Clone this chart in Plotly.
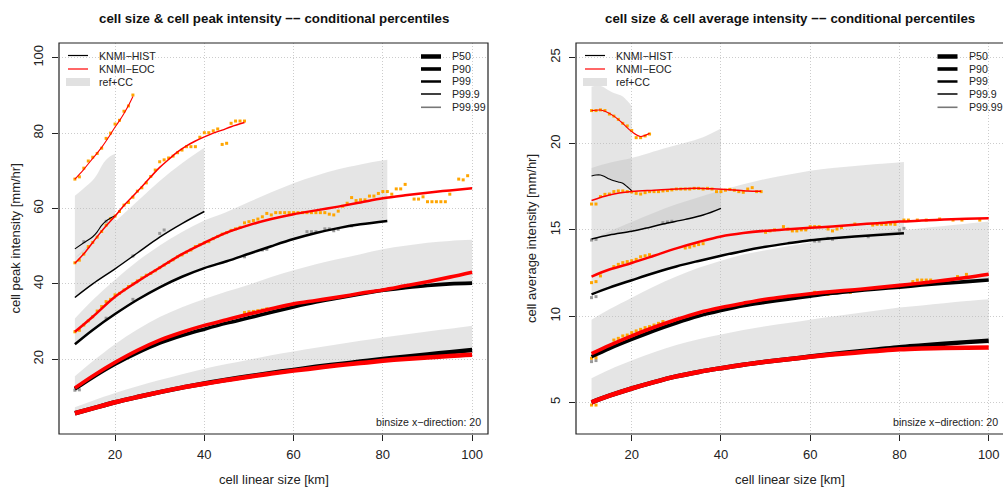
import plotly.graph_objects as go

W, H = 1003, 489
FONT = "Liberation Sans, Arial, Helvetica, sans-serif"

# ---------------- data: x grid and tick labels ----------------
X_FULL = [11, 15, 20, 25, 30, 35, 40, 45, 50, 55, 60, 65, 70, 75, 80, 85, 90, 95, 100]
X_P99_HIST = [11, 15, 20, 25, 30, 35, 40, 45, 50, 55, 60, 65, 70, 75, 81]
X_TICKS = [20, 40, 60, 80, 100]
PEAK_Y_TICKS = [20, 40, 60, 80, 100]
AVG_Y_TICKS = [5, 10, 15, 20, 25]
PERCENTILES = ["P50", "P90", "P99", "P99.9", "P99.99"]

# ---------------- left panel: cell peak intensity ----------------
PEAK_HIST_P50 = [5.7, 7.0, 8.6, 10.0, 11.3, 12.5, 13.6, 14.6, 15.5, 16.4, 17.2, 18.0, 18.7, 19.4, 20.1, 20.7, 21.3, 21.9, 22.5]
PEAK_EOC_P50 = [5.7, 7.0, 8.6, 10.0, 11.3, 12.5, 13.5, 14.5, 15.4, 16.2, 17.0, 17.7, 18.4, 19.0, 19.6, 20.1, 20.5, 20.9, 21.2]
PEAK_BAND_P50 = [7.3, 9.0, 11.05, 12.85, 14.5, 16.05, 17.5, 18.75, 19.9, 21.1, 22.1, 23.1, 24.0, 24.9, 25.8, 26.6, 27.4, 28.1, 28.9]

PEAK_HIST_P90 = [12.1, 15.2, 18.7, 21.7, 24.3, 26.3, 28.0, 29.6, 31.0, 32.5, 33.9, 35.2, 36.3, 37.3, 38.3, 39.0, 39.6, 40.0, 40.2]
PEAK_EOC_P90 = [12.4, 15.6, 19.2, 22.4, 25.1, 27.2, 29.0, 30.5, 32.0, 33.4, 34.7, 35.6, 36.5, 37.5, 38.4, 39.5, 40.6, 41.8, 43.1]
PEAK_BAND_P90 = [15.5, 19.5, 24.0, 27.9, 31.2, 33.8, 36.0, 38.0, 39.8, 41.8, 43.6, 45.2, 46.6, 47.9, 49.2, 50.1, 50.9, 51.4, 51.7]

PEAK_HIST_P99 = [24.0, 27.8, 32.0, 35.8, 39.1, 41.9, 44.2, 46.0, 48.0, 50.0, 51.9, 53.5, 54.8, 55.8, 56.7]
PEAK_BAND_P99 = [30.8, 35.7, 41.1, 46.0, 50.2, 53.8, 56.8, 59.1, 61.7, 64.3, 66.7, 68.7, 70.4, 71.7, 72.9]
PEAK_EOC_P99 = [27.3, 31.3, 36.6, 40.6, 44.3, 47.9, 50.9, 53.6, 55.6, 57.2, 58.5, 59.5, 60.5, 61.6, 62.7, 63.5, 64.2, 64.8, 65.4]

PEAK_X_P999_HIST = [11, 15, 20, 25, 30, 35, 40]
PEAK_HIST_P999 = [36.4, 40.0, 44.0, 48.2, 52.4, 56.0, 59.2]
PEAK_BAND_P999 = [46.8, 51.4, 56.5, 61.9, 67.3, 72.0, 76.1]
PEAK_X_P999_EOC = [11, 13, 15, 17, 20, 22, 25, 28, 30, 32, 34, 36, 38, 40, 42, 44, 46, 49]
PEAK_EOC_P999 = [45.5, 48.0, 51.0, 54.0, 58.0, 60.8, 64.5, 68.4, 70.9, 73.0, 75.0, 76.6, 77.9, 79.0, 80.0, 80.8, 81.7, 82.8]

PEAK_X_P9999_HIST = [11, 13, 15, 16, 17, 18, 19, 20]
PEAK_HIST_P9999 = [49.3, 50.9, 52.5, 53.8, 55.5, 56.7, 57.5, 58.0]
PEAK_BAND_P9999_LO = [46.8, 48.6, 51.4, 52.4, 53.5, 54.5, 55.5, 56.5]
PEAK_BAND_P9999_HI = [63.4, 65.4, 67.5, 69.1, 71.3, 72.9, 73.9, 74.5]
PEAK_X_P9999_EOC = [11, 13, 15, 17, 19, 20, 21, 22, 23, 24]
PEAK_EOC_P9999 = [67.8, 70.4, 73.3, 76.2, 79.7, 81.6, 83.3, 85.2, 87.3, 89.7]

# raw (unsmoothed) conditional percentiles, per 1-km size bin
PEAK_EOC_P9999_DOT_X = list(range(11, 25))
PEAK_EOC_P9999_DOT_Y = [67.8, 68.4, 70.7, 72.6, 73.6, 74.6, 76.0, 78.6, 80.0, 82.4, 83.4, 85.8, 87.2, 90.1]
PEAK_EOC_P999_DOT_X = list(range(11, 50))
PEAK_EOC_P999_DOT_Y = [45.6, 46.3, 47.9, 49.9, 51.0, 52.4, 53.9, 55.6, 57.3, 58.0,
                       59.2, 60.9, 61.6, 63.0, 64.6, 65.5, 66.8, 68.5, 70.2, 72.4,
                       72.9, 73.4, 73.9, 74.8, 75.5, 76.4, 76.4, 76.4, 78.9, 80.1,
                       80.1, 80.6, 81.1, 77.0, 77.3, 82.6, 83.2, 83.2, 83.2]
PEAK_EOC_P99_DOT_X = list(range(11, 86)) + [87, 88, 89, 90, 91, 92, 93, 94, 95, 97, 98, 99]
PEAK_EOC_P99_DOT_Y = [27.3, 27.7, 29.1, 30.2, 31.3, 32.8, 34.0, 35.3, 35.9, 37.1,
                      37.5, 38.4, 39.3, 40.0, 40.8, 41.6, 42.3, 42.8, 43.5, 44.3,
                      45.0, 45.7, 46.4, 47.2, 47.7, 48.4, 49.0, 49.9, 50.4, 50.9,
                      51.2, 52.0, 52.6, 53.2, 53.6, 54.2, 54.6, 55.0, 56.2, 56.5,
                      56.8, 57.2, 57.8, 58.7, 58.3, 58.9, 58.9, 58.9, 58.9, 58.9,
                      58.9, 58.9, 58.9, 58.9, 58.9, 58.9, 58.9, 58.5, 58.3, 59.3,
                      60.6, 61.4, 62.9, 62.1, 62.3, 62.3, 63.3, 63.3, 64.0, 64.5,
                      64.5, 63.8, 65.2, 65.2, 66.4,
                      62.5, 62.5, 63.1, 61.8, 61.8, 61.8, 61.8, 61.8, 63.8, 67.8, 67.6, 68.7]
PEAK_EOC_P90_DOT_X = [49, 50, 51, 52, 53, 54]
PEAK_EOC_P90_DOT_Y = [32.4, 32.6, 32.7, 32.9, 33.1, 33.4]

PEAK_HIST_DOT_X = [13, 18, 24, 30, 31, 18, 24, 49, 53, 54, 63, 64, 65, 67, 68, 69, 70, 73, 11, 12]
PEAK_HIST_DOT_Y = [51.2, 56.6, 47.4, 53.4, 54.3, 30.9, 35.9, 47.2, 49.0, 49.2, 53.85, 53.85, 53.85,
                   54.6, 54.6, 54.1, 54.5, 55.4, 11.8, 11.9]

# ---------------- right panel: cell average intensity ----------------
AVG_HIST_P50 = [5.0, 5.38, 5.8, 6.17, 6.5, 6.76, 6.98, 7.18, 7.35, 7.5, 7.65, 7.8, 7.93, 8.06, 8.2, 8.3, 8.4, 8.49, 8.57]
AVG_EOC_P50 = [5.0, 5.38, 5.8, 6.17, 6.5, 6.76, 6.98, 7.18, 7.35, 7.5, 7.64, 7.77, 7.88, 7.98, 8.07, 8.12, 8.15, 8.17, 8.18]
AVG_BAND_P50 = [6.4, 6.89, 7.42, 7.9, 8.32, 8.65, 8.93, 9.19, 9.41, 9.6, 9.79, 9.98, 10.15, 10.32, 10.5, 10.62, 10.75, 10.87, 10.97]

AVG_HIST_P90 = [7.65, 8.12, 8.65, 9.15, 9.6, 10.0, 10.32, 10.6, 10.8, 10.98, 11.15, 11.32, 11.46, 11.58, 11.68, 11.8, 11.9, 12.0, 12.09]
AVG_EOC_P90 = [7.82, 8.3, 8.85, 9.35, 9.8, 10.2, 10.5, 10.75, 10.98, 11.15, 11.3, 11.42, 11.53, 11.65, 11.78, 11.92, 12.07, 12.24, 12.43]
AVG_BAND_P90 = [9.79, 10.39, 11.07, 11.71, 12.29, 12.8, 13.21, 13.57, 13.82, 14.05, 14.27, 14.49, 14.67, 14.82, 14.95, 15.1, 15.23, 15.36, 15.48]

AVG_HIST_P99 = [11.26, 11.65, 12.08, 12.5, 12.88, 13.2, 13.5, 13.78, 14.02, 14.22, 14.4, 14.52, 14.62, 14.7, 14.8]
AVG_BAND_P99 = [14.41, 14.91, 15.46, 16.0, 16.49, 16.9, 17.28, 17.64, 17.95, 18.2, 18.43, 18.59, 18.71, 18.82, 18.94]
AVG_EOC_P99 = [12.29, 12.7, 13.08, 13.5, 13.93, 14.3, 14.62, 14.82, 14.95, 15.03, 15.12, 15.2, 15.3, 15.39, 15.48, 15.54, 15.6, 15.64, 15.67]

AVG_X_P999_HIST = [11, 15, 20, 23, 27, 32, 36, 40]
AVG_HIST_P999 = [14.47, 14.7, 14.92, 15.09, 15.34, 15.61, 15.86, 16.25]
AVG_BAND_P999 = [18.59, 18.89, 19.17, 19.39, 19.71, 20.06, 20.38, 20.88]
AVG_X_P999_EOC = [11, 15, 20, 25, 30, 34, 38, 42, 46, 49]
AVG_EOC_P999 = [16.7, 17.02, 17.22, 17.3, 17.37, 17.41, 17.38, 17.33, 17.25, 17.24]

AVG_X_P9999_HIST = [11, 12, 13, 14, 15, 16, 17, 18, 19, 20]
AVG_HIST_P9999 = [18.13, 18.18, 18.18, 18.08, 17.95, 17.85, 17.78, 17.7, 17.5, 17.27]
AVG_BAND_P9999 = [23.3, 23.36, 23.36, 23.23, 23.07, 22.94, 22.85, 22.74, 22.49, 22.19]
AVG_X_P9999_EOC = [11, 13, 14, 16, 18, 20, 22, 24]
AVG_EOC_P9999 = [21.92, 21.95, 21.88, 21.6, 21.18, 20.7, 20.42, 20.6]

AVG_EOC_P9999_DOT_X = list(range(11, 25))
AVG_EOC_P9999_DOT_Y = [21.92, 21.92, 21.96, 21.92, 21.72, 21.6, 21.41, 21.18, 21.03, 20.76, 20.35, 20.35, 20.45, 20.56]
AVG_EOC_P999_DOT_X = list(range(11, 50))
AVG_EOC_P999_DOT_Y = [16.5, 16.5, 16.93, 17.06, 17.08, 17.22, 17.26, 17.26, 17.22, 17.2,
                      17.12, 17.08, 17.16, 17.22, 17.22, 17.22, 17.26, 17.28, 17.32, 17.37,
                      17.37, 17.37, 17.37, 17.41, 17.41, 17.37, 17.41, 17.37, 17.22, 17.22,
                      17.3, 17.35, 17.3, 17.22, 17.18, 17.37, 17.45, 17.22, 17.22]
AVG_EOC_P99_DOT_X = [11, 12, 13, 16, 17, 18, 19, 20, 21, 22, 23, 24, 32, 33, 34, 35, 36,
                     50, 51, 52, 54, 55, 56, 57, 58, 59, 60, 61, 62, 64, 65, 66, 67, 70,
                     74, 75, 76, 77, 78, 79, 81, 82, 84, 86, 89, 92, 94, 98]
AVG_EOC_P99_DOT_Y = [11.94, 12.0, 12.33, 12.87, 13.0, 13.1, 13.16, 13.21, 13.29, 13.44, 13.5, 13.56,
                     13.95, 14.0, 14.08, 14.15, 14.2,
                     14.86, 14.94, 15.0, 15.19, 15.05, 14.94, 14.94, 15.0, 15.0, 15.19, 15.19, 15.19,
                     15.05, 14.94, 15.05, 15.13, 15.34,
                     15.28, 15.32, 15.32, 15.32, 15.34, 15.32, 15.57, 15.57, 15.57, 15.57, 15.63,
                     15.57, 15.57, 15.57]
AVG_EOC_P90_DOT_X = [11, 12, 16, 17, 18, 19, 20, 21, 22, 23, 24, 25, 26, 27, 61, 64, 69, 83, 84, 85, 86, 87, 93, 95]
AVG_EOC_P90_DOT_Y = [7.55, 7.59, 8.61, 8.71, 8.85, 8.9, 9.04, 9.14, 9.23, 9.33, 9.39, 9.48, 9.58, 9.68,
                     11.38, 11.26, 11.38, 12.0, 12.09, 12.09, 12.09, 12.09, 12.29, 12.42]
AVG_EOC_P50_DOT_X = [11, 12]
AVG_EOC_P50_DOT_Y = [4.84, 4.84]

AVG_HIST_DOT_X = [11, 12, 27, 28, 29, 11, 12, 61, 62, 64, 65, 73, 80, 81, 11, 12]
AVG_HIST_DOT_Y = [14.41, 14.45, 15.42, 15.46, 15.5, 11.07, 11.13, 14.35, 14.35, 14.51, 14.45,
                  14.6, 14.99, 15.09, 7.36, 7.42]

# ---------------- styling ----------------
BAND_FILL = "rgba(190,190,190,0.4)"
HIST_COLOR = "#000000"
EOC_COLOR = "#ff0000"
ORANGE = "#ffa500"
GRAYDOT = "#9a9a9a"
WIDTHS = {"P50": 4.5, "P90": 3.6, "P99": 2.5, "P99.9": 1.5, "P99.99": 1.1}

fig = go.Figure()


def band(xs, lo, hi, xa, ya):
    fig.add_trace(go.Scatter(x=xs, y=lo, mode="lines", line=dict(width=0, shape="spline"),
                             hoverinfo="skip", showlegend=False, xaxis=xa, yaxis=ya))
    fig.add_trace(go.Scatter(x=xs, y=hi, mode="lines", line=dict(width=0, shape="spline"),
                             fill="tonexty", fillcolor=BAND_FILL,
                             hoverinfo="skip", showlegend=False, xaxis=xa, yaxis=ya))


def dots(xs, ys, color, xa, ya):
    fig.add_trace(go.Scatter(x=xs, y=ys, mode="markers",
                             marker=dict(symbol="square", size=3, color=color, line=dict(width=0)),
                             hoverinfo="skip", showlegend=False, xaxis=xa, yaxis=ya))


def curve(xs, ys, color, pct, xa, ya):
    fig.add_trace(go.Scatter(x=xs, y=ys, mode="lines",
                             line=dict(color=color, width=WIDTHS[pct], shape="spline"),
                             hoverinfo="skip", showlegend=False, xaxis=xa, yaxis=ya))


# ----- left panel -----
band(X_FULL, PEAK_HIST_P50, PEAK_BAND_P50, "x", "y")
band(X_FULL, PEAK_HIST_P90, PEAK_BAND_P90, "x", "y")
band(X_P99_HIST, PEAK_HIST_P99, PEAK_BAND_P99, "x", "y")
band(PEAK_X_P999_HIST, PEAK_HIST_P999, PEAK_BAND_P999, "x", "y")
band(PEAK_X_P9999_HIST, PEAK_BAND_P9999_LO, PEAK_BAND_P9999_HI, "x", "y")

dots(PEAK_HIST_DOT_X, PEAK_HIST_DOT_Y, GRAYDOT, "x", "y")
dots(PEAK_EOC_P9999_DOT_X, PEAK_EOC_P9999_DOT_Y, ORANGE, "x", "y")
dots(PEAK_EOC_P999_DOT_X, PEAK_EOC_P999_DOT_Y, ORANGE, "x", "y")
dots(PEAK_EOC_P99_DOT_X, PEAK_EOC_P99_DOT_Y, ORANGE, "x", "y")
dots(PEAK_EOC_P90_DOT_X, PEAK_EOC_P90_DOT_Y, ORANGE, "x", "y")

curve(X_FULL, PEAK_HIST_P50, HIST_COLOR, "P50", "x", "y")
curve(X_FULL, PEAK_HIST_P90, HIST_COLOR, "P90", "x", "y")
curve(X_P99_HIST, PEAK_HIST_P99, HIST_COLOR, "P99", "x", "y")
curve(PEAK_X_P999_HIST, PEAK_HIST_P999, HIST_COLOR, "P99.9", "x", "y")
curve(PEAK_X_P9999_HIST, PEAK_HIST_P9999, HIST_COLOR, "P99.99", "x", "y")
curve(X_FULL, PEAK_EOC_P50, EOC_COLOR, "P50", "x", "y")
curve(X_FULL, PEAK_EOC_P90, EOC_COLOR, "P90", "x", "y")
curve(X_FULL, PEAK_EOC_P99, EOC_COLOR, "P99", "x", "y")
curve(PEAK_X_P999_EOC, PEAK_EOC_P999, EOC_COLOR, "P99.9", "x", "y")
curve(PEAK_X_P9999_EOC, PEAK_EOC_P9999, EOC_COLOR, "P99.99", "x", "y")

# ----- right panel -----
band(X_FULL, AVG_HIST_P50, AVG_BAND_P50, "x2", "y2")
band(X_FULL, AVG_HIST_P90, AVG_BAND_P90, "x2", "y2")
band(X_P99_HIST, AVG_HIST_P99, AVG_BAND_P99, "x2", "y2")
band(AVG_X_P999_HIST, AVG_HIST_P999, AVG_BAND_P999, "x2", "y2")
band(AVG_X_P9999_HIST, AVG_HIST_P9999, AVG_BAND_P9999, "x2", "y2")

dots(AVG_HIST_DOT_X, AVG_HIST_DOT_Y, GRAYDOT, "x2", "y2")
dots(AVG_EOC_P9999_DOT_X, AVG_EOC_P9999_DOT_Y, ORANGE, "x2", "y2")
dots(AVG_EOC_P999_DOT_X, AVG_EOC_P999_DOT_Y, ORANGE, "x2", "y2")
dots(AVG_EOC_P99_DOT_X, AVG_EOC_P99_DOT_Y, ORANGE, "x2", "y2")
dots(AVG_EOC_P90_DOT_X, AVG_EOC_P90_DOT_Y, ORANGE, "x2", "y2")
dots(AVG_EOC_P50_DOT_X, AVG_EOC_P50_DOT_Y, ORANGE, "x2", "y2")

curve(X_FULL, AVG_HIST_P50, HIST_COLOR, "P50", "x2", "y2")
curve(X_FULL, AVG_HIST_P90, HIST_COLOR, "P90", "x2", "y2")
curve(X_P99_HIST, AVG_HIST_P99, HIST_COLOR, "P99", "x2", "y2")
curve(AVG_X_P999_HIST, AVG_HIST_P999, HIST_COLOR, "P99.9", "x2", "y2")
curve(AVG_X_P9999_HIST, AVG_HIST_P9999, HIST_COLOR, "P99.99", "x2", "y2")
curve(X_FULL, AVG_EOC_P50, EOC_COLOR, "P50", "x2", "y2")
curve(X_FULL, AVG_EOC_P90, EOC_COLOR, "P90", "x2", "y2")
curve(X_FULL, AVG_EOC_P99, EOC_COLOR, "P99", "x2", "y2")
curve(AVG_X_P999_EOC, AVG_EOC_P999, EOC_COLOR, "P99.9", "x2", "y2")
curve(AVG_X_P9999_EOC, AVG_EOC_P9999, EOC_COLOR, "P99.99", "x2", "y2")

# ---------------- axes ----------------
axis_common = dict(ticks="outside", ticklen=6, tickwidth=1, tickcolor="#222222",
                   showline=False, zeroline=False, showgrid=True, gridcolor="#cccccc",
                   griddash="1px,2px", gridwidth=1,
                   tickfont=dict(family=FONT, size=13, color="#222222"))

PLOT_TOP, PLOT_BOT = 43, 434
YDOM = [(H - PLOT_BOT) / H, (H - PLOT_TOP) / H]

fig.update_layout(
    width=W, height=H, margin=dict(l=0, r=0, t=0, b=0),
    paper_bgcolor="white", plot_bgcolor="white", showlegend=False,
    xaxis=dict(domain=[59 / W, 488 / W], range=[7.44, 103.56], tickvals=X_TICKS,
               anchor="y", ticklabelstandoff=2, **axis_common),
    yaxis=dict(domain=YDOM, range=[0.19, 103.9], tickvals=PEAK_Y_TICKS, tickangle=-90,
               anchor="x", ticklabelstandoff=4, **axis_common),
    xaxis2=dict(domain=[576 / W, 1.0], range=[7.518, 103.2], tickvals=X_TICKS,
                anchor="y2", ticklabelstandoff=2, **axis_common),
    yaxis2=dict(domain=YDOM, range=[3.161, 25.84], tickvals=AVG_Y_TICKS, tickangle=-90,
                anchor="x2", ticklabelstandoff=4, **axis_common),
)

shapes = []
# plot frames
shapes.append(dict(type="rect", xref="paper", yref="paper", x0=59 / W, x1=488 / W,
                   y0=YDOM[0], y1=YDOM[1], line=dict(color="#222222", width=1.2)))
shapes.append(dict(type="rect", xref="paper", yref="paper", x0=576 / W, x1=1.003,
                   y0=YDOM[0], y1=YDOM[1], line=dict(color="#222222", width=1.2)))

annotations = []


def px(xp):
    return xp / W


def py(yp):
    return 1 - yp / H


def text(xp, yp, s, size, anchor="left", bold=False, angle=0, color="#222222"):
    annotations.append(dict(xref="paper", yref="paper", x=px(xp), y=py(yp),
                            text=("<b>%s</b>" % s) if bold else s, showarrow=False,
                            xanchor=anchor, yanchor="middle", textangle=angle,
                            font=dict(family=FONT, size=size, color=color)))


def legend_line(x0, x1, yp, color, width):
    shapes.append(dict(type="line", xref="paper", yref="paper", x0=px(x0), x1=px(x1),
                       y0=py(yp), y1=py(yp), line=dict(color=color, width=width)))


SERIES_LABELS = ["KNMI−HIST", "KNMI−EOC", "ref+CC"]
LEG_ROWS_A = [55.5, 69, 82]
LEG_ROWS_B = [56.5, 69, 81.5, 94, 107.3]
LEG_WIDTHS_B = [4.5, 3.6, 2.5, 1.5, 1.6]
LEG_COLORS_B = ["#000000", "#000000", "#000000", "#000000", "#777777"]

panels = [
    dict(cx=273.5, title="cell size &amp; cell peak intensity −− conditional percentiles",
         ylab="cell peak intensity [mm/hr]", ylab_x=15, la=68, lb=421, binx=483),
    dict(cx=790, title="cell size &amp; cell average intensity −− conditional percentiles",
         ylab="cell average intensity [mm/hr]", ylab_x=531.5, la=585, lb=937.5, binx=1000),
]
for p in panels:
    text(p["cx"], 18, p["title"], 13.3, anchor="center", bold=True, color="#111111")
    text(p["cx"], 479, "cell linear size [km]", 13, anchor="center")
    text(p["ylab_x"], 238.5, p["ylab"], 13, anchor="center", angle=-90)
    # series legend
    legend_line(p["la"], p["la"] + 20, LEG_ROWS_A[0], HIST_COLOR, 1.2)
    legend_line(p["la"], p["la"] + 20, LEG_ROWS_A[1], EOC_COLOR, 1.2)
    legend_line(p["la"] - 2, p["la"] + 22, LEG_ROWS_A[2], "#e1e1e1", 8)
    for lab, yr in zip(SERIES_LABELS, LEG_ROWS_A):
        text(p["la"] + 29, yr, lab, 10.6)
    # percentile legend
    for lab, yr, wd, col in zip(PERCENTILES, LEG_ROWS_B, LEG_WIDTHS_B, LEG_COLORS_B):
        legend_line(p["lb"], p["lb"] + 20, yr, col, wd)
        text(p["lb"] + 29, yr, lab, 10.6)
    text(p["binx"], 422, "binsize x−direction: 20", 10.6, anchor="right")

fig.update_layout(shapes=shapes, annotations=annotations)
fig.write_html("out.html",
               config={"displayModeBar": False, "staticPlot": True},
               post_script="document.body.style.margin='0';document.body.style.padding='0';"
                           "document.body.style.overflow='hidden';")
